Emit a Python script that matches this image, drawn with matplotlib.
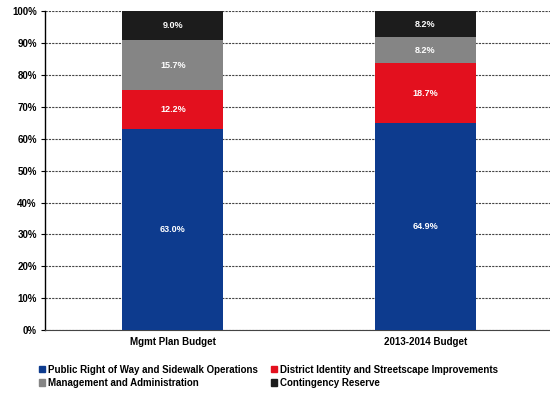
import numpy as np
from matplotlib import pyplot as plt
from matplotlib.patches import Patch

plt.rcParams["font.family"] = ["Liberation Sans", "DejaVu Sans"]

categories = ["Mgmt Plan Budget", "2013-2014 Budget"]
series_names = [
    "Public Right of Way and Sidewalk Operations",
    "District Identity and Streetscape Improvements",
    "Management and Administration",
    "Contingency Reserve",
]
public_row = [63.0, 64.9]
district_identity = [12.2, 18.7]
management = [15.7, 8.2]
contingency = [9.0, 8.2]
colors = ["#0d3b8e", "#e3101e", "#858585", "#1c1c1c"]

fig = plt.figure(figsize=(5.5, 3.94), dpi=100)
ax = fig.add_axes([0.082, 0.162, 0.93, 0.81])

x = np.arange(len(categories))
bottom = np.zeros(len(categories))
for vals, color in zip([public_row, district_identity, management, contingency], colors):
    vals = np.array(vals)
    ax.bar(x, vals, 0.4, bottom=bottom, color=color, zorder=3)
    for xi, b, v in zip(x, bottom, vals):
        ax.text(xi, b + v / 2, f"{v:.1f}%", ha="center", va="center",
                color="white", fontsize=6.5, fontweight="bold", zorder=4)
    bottom += vals

ax.set_xlim(-0.506, 1.52)
ax.set_ylim(0, 100)
ax.set_yticks(np.arange(0, 101, 10))
ax.set_yticklabels([f"{v}%" for v in range(0, 101, 10)], fontsize=7, fontweight="bold")
ax.set_xticks(x)
ax.set_xticklabels(categories, fontsize=7, fontweight="bold")
ax.tick_params(axis="x", length=0, pad=5)
ax.tick_params(axis="y", length=3, pad=3)
ax.grid(axis="y", color="#444444", linestyle=(0, (2, 1)), linewidth=0.8, zorder=0)
for s in ["top", "right"]:
    ax.spines[s].set_visible(False)
ax.spines["left"].set_linewidth(1.0)
ax.spines["bottom"].set_color("#444444")

# legend fills column by column, so order for two rows
order = [0, 2, 1, 3]
handles = [Patch(color=colors[i]) for i in order]
labels = [series_names[i] for i in order]
fig.legend(handles, labels, loc="lower left", bbox_to_anchor=(0.055, -0.007),
           ncol=2, frameon=False, handlelength=0.6, handleheight=0.6,
           handletextpad=0.3, columnspacing=1.4, labelspacing=0.35,
           prop={"size": 7, "weight": "bold"})

fig.savefig("out.png", dpi=100)
